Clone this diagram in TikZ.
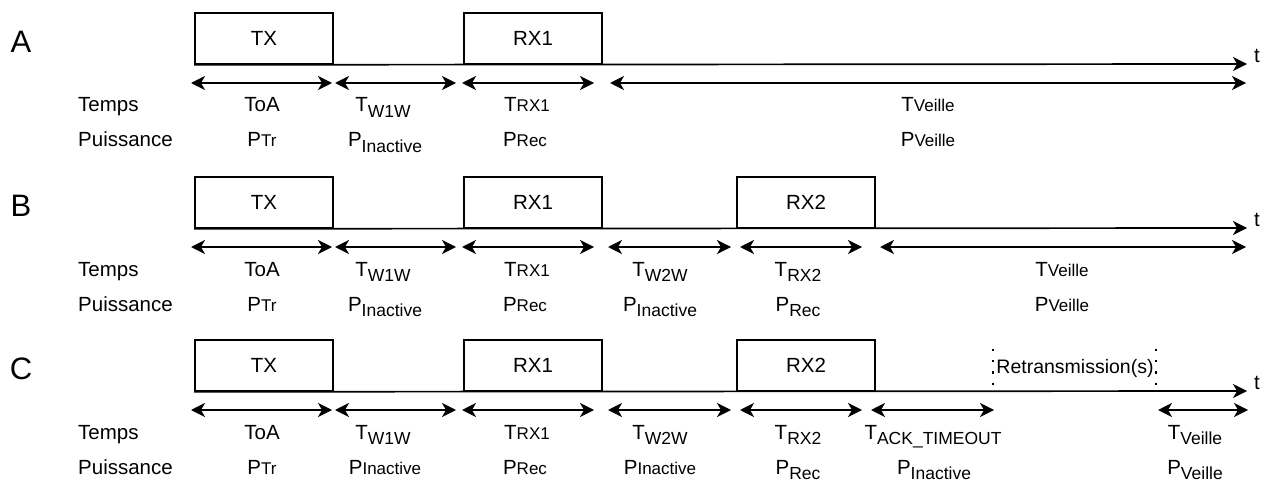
\documentclass[tikz,border=0pt]{standalone}
\usepackage{fontspec}
\setmainfont{Liberation Sans}
\usetikzlibrary{arrows.meta}
\newcommand\lo[2]{#1\raisebox{-0.25em}{\fontsize{17.5}{17.5}\selectfont #2}}
\newcommand\sm[2]{#1{\fontsize{17}{17}\selectfont #2}}
\newcommand\durarrow[4]{\coordinate (#1l) at (#2,#4); \coordinate (#1r) at (#3,#4); \draw[dur] (#1l) -- (#1r);}
\tikzset{
  txt/.style={font=\fontsize{20.5}{24}\selectfont, inner sep=0pt, anchor=base},
  rowlab/.style={font=\fontsize{20.5}{24}\selectfont, inner sep=0pt, anchor=base west},
  big/.style={font=\fontsize{31}{36}\selectfont, inner sep=0pt},
  slot/.style={draw, line width=1.6pt, minimum height=51pt, minimum width=138pt, inner sep=0pt, font=\fontsize{20.5}{24}\selectfont},
  axis/.style={line width=1.7pt, -{Stealth[length=14pt,width=14pt,inset=4pt]}},
  dur/.style={line width=1.7pt, {Stealth[length=14pt,width=14pt,inset=4pt]}-{Stealth[length=14pt,width=14pt,inset=4pt]}},
  retr/.style={line width=2.2pt, dash pattern=on 2.2pt off 9pt},
}
\begin{document}
\begin{tikzpicture}[x=1pt,y=-1pt]
\useasboundingbox (0,0) rectangle (1263,481);
% ---------------- Row A ----------------
\node[big] (lA) at (21,42) {A};
\node[slot] (aTX) at (264,38.5) {TX};
\node[slot] (aRX1) at (533,38.5) {RX1};
\coordinate (aEnd) at (1247,64);
\draw[axis] (aTX.south west) -- (aEnd);
\node[txt, anchor=center] (at) at (1257,56) {t};
\durarrow{a1}{191}{332}{83}
\durarrow{a2}{335}{456}{83}
\durarrow{a3}{462}{594}{83}
\durarrow{a4}{610}{1246}{83}
\node[rowlab] (aTemps) at (78,112) {Temps};
\node[rowlab] (aPuis) at (78,147) {Puissance};
\node[txt] (aT1) at (262,112) {ToA};
\node[txt] (aT2) at (383,112) {\lo{T}{W1W}};
\node[txt] (aT3) at (527,112) {\sm{T}{RX1}};
\node[txt] (aT4) at (928,112) {\sm{T}{Veille}};
\node[txt] (aP1) at (262,147) {\sm{P}{Tr}};
\node[txt] (aP2) at (385,147) {\lo{P}{Inactive}};
\node[txt] (aP3) at (525,147) {\sm{P}{Rec}};
\node[txt] (aP4) at (928,147) {\sm{P}{Veille}};
% ---------------- Row B ----------------
\node[big] (lB) at (21,206) {B};
\node[slot] (bTX) at (264,202.5) {TX};
\node[slot] (bRX1) at (533,202.5) {RX1};
\node[slot] (bRX2) at (806,202.5) {RX2};
\coordinate (bEnd) at (1247,228);
\draw[axis] (bTX.south west) -- (bEnd);
\node[txt, anchor=center] (bt) at (1257,220) {t};
\durarrow{b1}{191}{332}{247}
\durarrow{b2}{335}{456}{247}
\durarrow{b3}{462}{594}{247}
\durarrow{b4}{608}{731}{247}
\durarrow{b5}{740}{862}{247}
\durarrow{b6}{880}{1246}{247}
\node[rowlab] (bTemps) at (78,276) {Temps};
\node[rowlab] (bPuis) at (78,311) {Puissance};
\node[txt] (bT1) at (262,276) {ToA};
\node[txt] (bT2) at (383,276) {\lo{T}{W1W}};
\node[txt] (bT3) at (527,276) {\sm{T}{RX1}};
\node[txt] (bT4) at (660,276) {\lo{T}{W2W}};
\node[txt] (bT5) at (798,276) {\lo{T}{RX2}};
\node[txt] (bT6) at (1062,276) {\sm{T}{Veille}};
\node[txt] (bP1) at (262,311) {\sm{P}{Tr}};
\node[txt] (bP2) at (385,311) {\lo{P}{Inactive}};
\node[txt] (bP3) at (525,311) {\sm{P}{Rec}};
\node[txt] (bP4) at (660,311) {\lo{P}{Inactive}};
\node[txt] (bP5) at (798,311) {\lo{P}{Rec}};
\node[txt] (bP6) at (1062,311) {\sm{P}{Veille}};
% ---------------- Row C ----------------
\node[big] (lC) at (21,369) {C};
\node[slot] (cTX) at (264,365.5) {TX};
\node[slot] (cRX1) at (533,365.5) {RX1};
\node[slot] (cRX2) at (806,365.5) {RX2};
\coordinate (cEnd) at (1247,391);
\draw[axis] (cTX.south west) -- (cEnd);
\node[txt, anchor=center] (ct) at (1257,383) {t};
\coordinate (r1t) at (993,349); \coordinate (r1b) at (993,392);
\coordinate (r2t) at (1156,349); \coordinate (r2b) at (1156,392);
\draw[retr] (r1t) -- (r1b);
\draw[retr] (r2t) -- (r2b);
\node[txt, anchor=center, font=\fontsize{19.5}{22}\selectfont] (retx) at (1075,368) {Retransmission(s)};
\durarrow{c1}{191}{332}{410}
\durarrow{c2}{335}{456}{410}
\durarrow{c3}{462}{594}{410}
\durarrow{c4}{608}{731}{410}
\durarrow{c5}{740}{862}{410}
\durarrow{c6}{871}{994}{410}
\durarrow{c7}{1158}{1248}{410}
\node[rowlab] (cTemps) at (78,439) {Temps};
\node[rowlab] (cPuis) at (78,474) {Puissance};
\node[txt] (cT1) at (262,439) {ToA};
\node[txt] (cT2) at (383,439) {\lo{T}{W1W}};
\node[txt] (cT3) at (527,439) {\sm{T}{RX1}};
\node[txt] (cT4) at (660,439) {\lo{T}{W2W}};
\node[txt] (cT5) at (798,439) {\lo{T}{RX2}};
\node[txt] (cT6) at (933,439) {\lo{T}{ACK\_TIMEOUT}};
\node[txt] (cT7) at (1195,439) {\lo{T}{Veille}};
\node[txt] (cP1) at (262,474) {\sm{P}{Tr}};
\node[txt] (cP2) at (385,474) {\sm{P}{Inactive}};
\node[txt] (cP3) at (525,474) {\sm{P}{Rec}};
\node[txt] (cP4) at (660,474) {\sm{P}{Inactive}};
\node[txt] (cP5) at (798,474) {\lo{P}{Rec}};
\node[txt] (cP6) at (934,474) {\lo{P}{Inactive}};
\node[txt] (cP7) at (1195,474) {\lo{P}{Veille}};
\end{tikzpicture}
\end{document}
